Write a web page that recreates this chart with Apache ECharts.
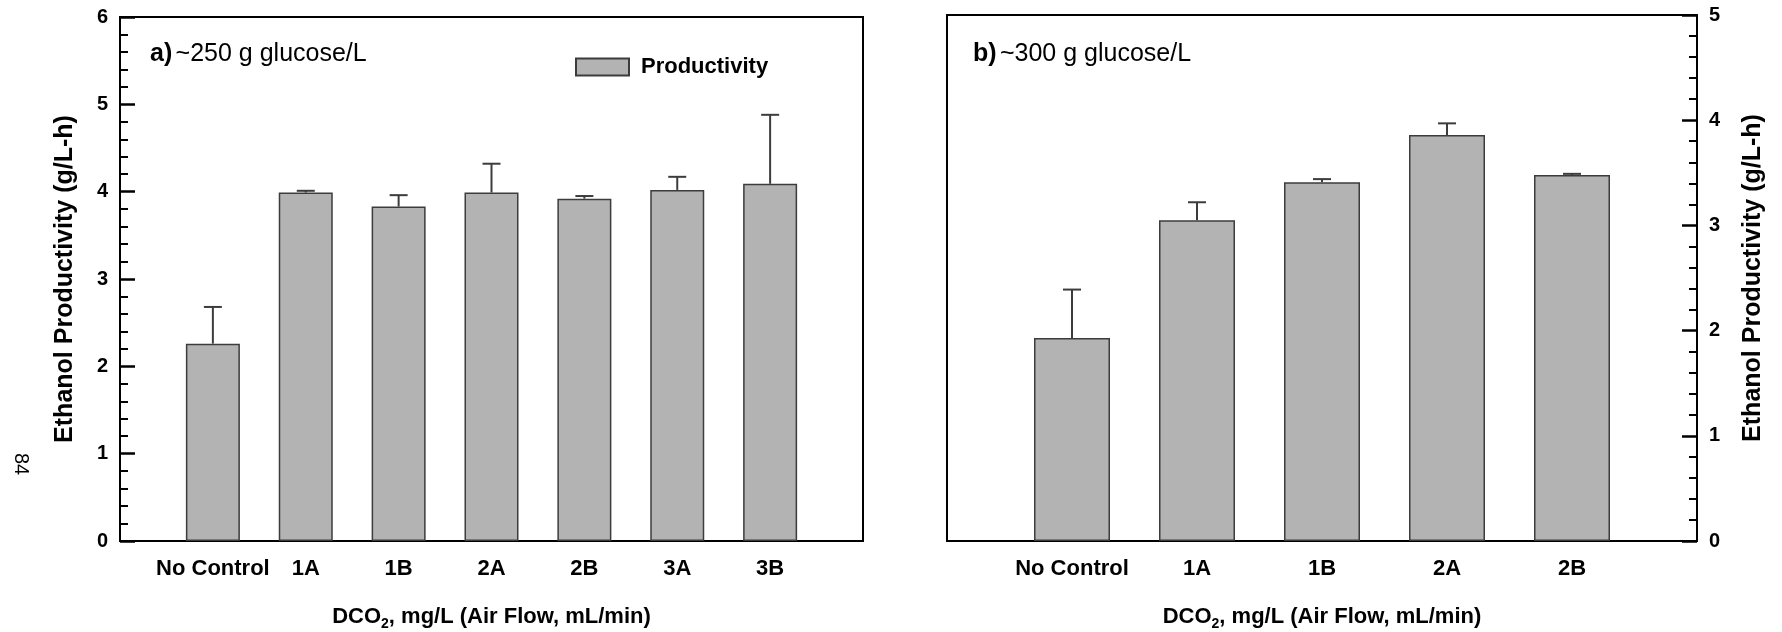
<!DOCTYPE html>
<html>
<head>
<meta charset="utf-8">
<script src="https://cdn.jsdelivr.net/npm/echarts@6/dist/echarts.min.js"></script>
<style>
  html, body { margin: 0; padding: 0; background: #fff; }
  #chart { width: 1782px; height: 632px; }
</style>
</head>
<body>
<div id="chart"></div>
<script>
// Panel a) ~250 g glucose/L
const leftCategories = ['No Control', '1A', '1B', '2A', '2B', '3A', '3B'];
const leftValues = [2.26, 3.99, 3.83, 3.99, 3.92, 4.02, 4.09];
const leftUpper = [2.68, 4.01, 3.96, 4.32, 3.95, 4.17, 4.88];

// Panel b) ~300 g glucose/L
const rightCategories = ['No Control', '1A', '1B', '2A', '2B'];
const rightValues = [1.93, 3.05, 3.41, 3.86, 3.48];
const rightUpper = [2.39, 3.22, 3.44, 3.97, 3.49];

const leftAxisMax = 6;
const rightAxisMax = 5;

const FONT = '"Liberation Sans", Arial, Helvetica, sans-serif';
const BAR_FILL = '#b3b3b3';
const BAR_EDGE = '#3c3c3c';
const ERR_COLOR = '#3c3c3c';

// pad one empty slot at each end so the bars sit one step in from the frame
function padded(arr, fill) { return [fill].concat(arr, [fill]); }

function errorData(values, upper) {
  return values.map((v, i) => [i + 1, v, upper[i]]);
}

function renderError(params, api) {
  const x = api.value(0);
  const p0 = api.coord([x, api.value(1)]);
  const p1 = api.coord([x, api.value(2)]);
  const cap = 9;
  const style = { stroke: ERR_COLOR, lineWidth: 2, fill: null };
  return {
    type: 'group',
    children: [
      { type: 'line', shape: { x1: p0[0], y1: p0[1], x2: p1[0], y2: p1[1] }, style },
      { type: 'line', shape: { x1: p1[0] - cap, y1: p1[1], x2: p1[0] + cap, y2: p1[1] }, style }
    ]
  };
}

function xAxisFor(gridIndex, cats) {
  return {
    type: 'category',
    gridIndex,
    data: padded(cats, ''),
    boundaryGap: false,
    axisLine: { show: true, lineStyle: { color: '#000', width: 2 } },
    axisTick: { show: false },
    axisLabel: {
      color: '#000', fontFamily: FONT, fontWeight: 'bold', fontSize: 22,
      margin: 17, interval: 0
    },
    splitLine: { show: false },
    name: '{t|DCO}{s|2}{t|, mg/L (Air Flow, mL/min)}',
    nameLocation: 'middle',
    nameGap: 62,
    nameTextStyle: {
      rich: {
        t: { fontFamily: FONT, fontWeight: 'bold', fontSize: 22, color: '#000' },
        s: { fontFamily: FONT, fontWeight: 'bold', fontSize: 14, color: '#000', padding: [14, 0, 0, 0] }
      }
    }
  };
}

function yAxisFor(gridIndex, max, position) {
  return {
    type: 'value',
    gridIndex,
    position,
    min: 0,
    max,
    interval: 1,
    axisLine: { show: true, lineStyle: { color: '#000', width: 2 } },
    axisTick: { show: true, inside: true, length: 15, lineStyle: { color: '#000', width: 2.5 } },
    minorTick: { show: true, splitNumber: 5, length: 8, lineStyle: { color: '#000', width: 2 } },
    axisLabel: {
      color: '#000', fontFamily: FONT, fontWeight: 'bold', fontSize: 20, margin: 12
    },
    splitLine: { show: false },
    minorSplitLine: { show: false },
    name: 'Ethanol Productivity (g/L-h)',
    nameLocation: 'middle',
    nameRotate: 90,
    nameGap: position === 'left' ? 42 : 44,
    nameTextStyle: { fontFamily: FONT, fontWeight: 'bold', fontSize: 25, color: '#000' }
  };
}

const chart = echarts.init(document.getElementById('chart'), null, { renderer: 'canvas' });

chart.setOption({
  backgroundColor: '#fff',
  animation: false,
  textStyle: { fontFamily: FONT },
  grid: [
    { left: 120, top: 17, width: 743, height: 524, outerBoundsMode: 'none', containLabel: false,
      show: true, borderColor: '#000', borderWidth: 2, backgroundColor: 'transparent' },
    { left: 947, top: 15, width: 750, height: 526, outerBoundsMode: 'none', containLabel: false,
      show: true, borderColor: '#000', borderWidth: 2, backgroundColor: 'transparent' }
  ],
  xAxis: [xAxisFor(0, leftCategories), xAxisFor(1, rightCategories)],
  yAxis: [yAxisFor(0, leftAxisMax, 'left'), yAxisFor(1, rightAxisMax, 'right')],
  legend: {
    data: [{ name: 'Productivity', icon: 'rect' }],
    left: 575,
    top: 56,
    padding: 0,
    itemWidth: 53,
    itemHeight: 17,
    itemGap: 12,
    selectedMode: false,
    textStyle: { fontFamily: FONT, fontWeight: 'bold', fontSize: 22, color: '#000', padding: [0, 0, 0, 7] }
  },
  series: [
    {
      name: 'Productivity',
      type: 'bar',
      xAxisIndex: 0, yAxisIndex: 0,
      data: padded(leftValues, '-'),
      barWidth: 54,
      itemStyle: { color: BAR_FILL, borderColor: BAR_EDGE, borderWidth: 1.5 },
      z: 2
    },
    {
      name: 'Productivity',
      type: 'bar',
      xAxisIndex: 1, yAxisIndex: 1,
      data: padded(rightValues, '-'),
      barWidth: 76,
      itemStyle: { color: BAR_FILL, borderColor: BAR_EDGE, borderWidth: 1.5 },
      z: 2
    },
    {
      name: 'error-a',
      type: 'custom',
      xAxisIndex: 0, yAxisIndex: 0,
      data: errorData(leftValues, leftUpper),
      renderItem: renderError,
      z: 3
    },
    {
      name: 'error-b',
      type: 'custom',
      xAxisIndex: 1, yAxisIndex: 1,
      data: errorData(rightValues, rightUpper),
      renderItem: renderError,
      z: 3
    }
  ],
  graphic: [
    {
      type: 'text',
      left: 150,
      top: 42,
      style: {
        text: '{b|a)} {r|~250 g glucose/L}',
        rich: {
          b: { fontFamily: FONT, fontWeight: 'bold', fontSize: 25, fill: '#000' },
          r: { fontFamily: FONT, fontSize: 25, fill: '#000' }
        }
      }
    },
    {
      type: 'text',
      left: 973,
      top: 42,
      style: {
        text: '{b|b)} {r|~300 g glucose/L}',
        rich: {
          b: { fontFamily: FONT, fontWeight: 'bold', fontSize: 25, fill: '#000' },
          r: { fontFamily: FONT, fontSize: 25, fill: '#000' }
        }
      }
    },
    {
      type: 'text',
      x: 31,
      y: 453,
      rotation: -Math.PI / 2,
      style: { text: '84', fontFamily: FONT, fontSize: 20, fill: '#000' }
    }
  ]
});
</script>
</body>
</html>
